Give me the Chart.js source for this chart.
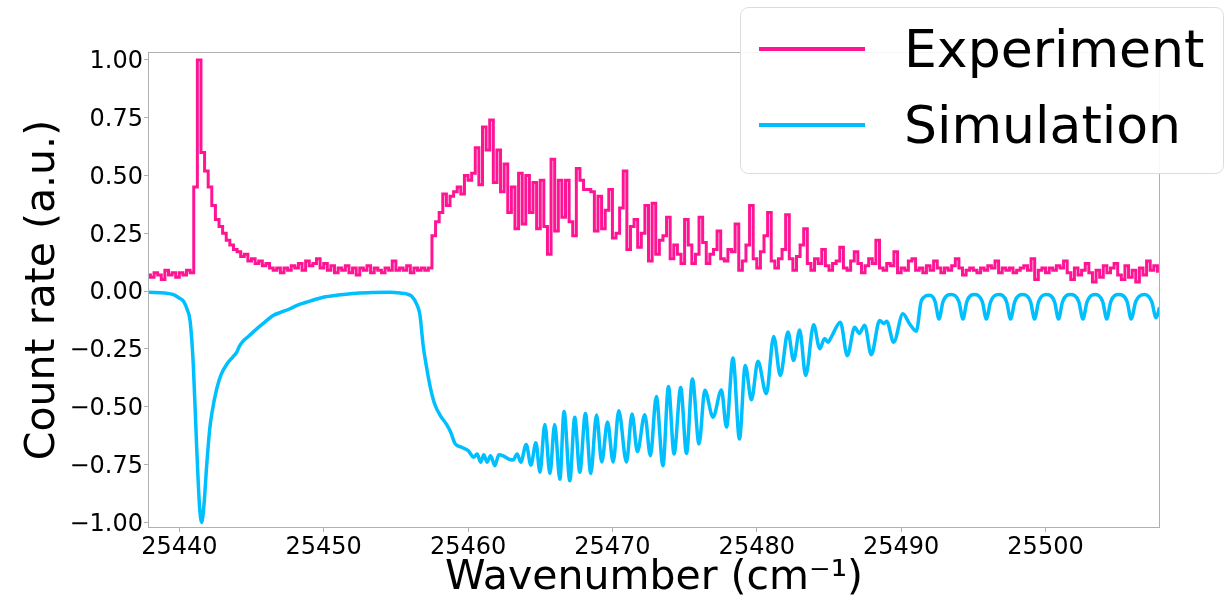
<!DOCTYPE html>
<html>
<head>
<meta charset="utf-8">
<title>Count rate vs wavenumber</title>
<script src="https://cdn.jsdelivr.net/npm/chart.js@4.4.1/dist/chart.umd.min.js"></script>
<style>
  html, body { margin: 0; padding: 0; background: #fff; }
  #wrap { width: 1226px; height: 599px; }
</style>
</head>
<body>
<div id="wrap"><canvas id="spectrum" width="1226" height="599"></canvas></div>
<script>
// measured spectrum: uniform grid, one value per 0.25 cm^-1 bin
const EXP_START = 25437.75;
const EXP_STEP = 0.25;
const expCounts = [
  0.07,
  0.06, 0.08, 0.07, 0.05,   // 25438
  0.09, 0.07, 0.08, 0.06,   // 25439
  0.08, 0.07, 0.09, 0.08,   // 25440
  0.45, 1.00, 0.60, 0.52,   // 25441
  0.45, 0.37, 0.31, 0.28,   // 25442
  0.25, 0.22, 0.20, 0.18,   // 25443
  0.17, 0.15, 0.16, 0.13,   // 25444
  0.14, 0.12, 0.13, 0.11,   // 25445
  0.12, 0.10, 0.09, 0.10,   // 25446
  0.08, 0.10, 0.09, 0.11,   // 25447
  0.10, 0.12, 0.09, 0.13,   // 25448
  0.11, 0.12, 0.14, 0.10,   // 25449
  0.12, 0.09, 0.11, 0.08,   // 25450
  0.10, 0.09, 0.11, 0.08,   // 25451
  0.10, 0.07, 0.10, 0.09,   // 25452
  0.11, 0.08, 0.10, 0.09,   // 25453
  0.08, 0.10, 0.09, 0.13,   // 25454
  0.09, 0.10, 0.09, 0.11,   // 25455
  0.08, 0.10, 0.09, 0.10,   // 25456
  0.09, 0.10, 0.24, 0.30,   // 25457
  0.34, 0.42, 0.37, 0.41,   // 25458
  0.43, 0.45, 0.42, 0.50,   // 25459
  0.48, 0.51, 0.62, 0.46,   // 25460
  0.71, 0.61, 0.74, 0.47,   // 25461
  0.61, 0.43, 0.55, 0.34,   // 25462
  0.45, 0.27, 0.51, 0.29,   // 25463
  0.50, 0.34, 0.47, 0.27,   // 25464
  0.48, 0.28, 0.16, 0.57,   // 25465
  0.26, 0.48, 0.32, 0.48,   // 25466
  0.30, 0.24, 0.53, 0.48,   // 25467
  0.44, 0.44, 0.43, 0.26,   // 25468
  0.41, 0.27, 0.35, 0.44,   // 25469
  0.23, 0.25, 0.36, 0.52,   // 25470
  0.18, 0.28, 0.31, 0.19,   // 25471
  0.25, 0.37, 0.13, 0.38,   // 25472
  0.16, 0.22, 0.24, 0.32,   // 25473
  0.14, 0.20, 0.16, 0.12,   // 25474
  0.31, 0.20, 0.12, 0.16,   // 25475
  0.32, 0.21, 0.12, 0.16,   // 25476
  0.18, 0.26, 0.14, 0.13,   // 25477
  0.18, 0.17, 0.29, 0.09,   // 25478
  0.13, 0.20, 0.37, 0.14,   // 25479
  0.10, 0.17, 0.24, 0.34,   // 25480
  0.13, 0.10, 0.14, 0.18,   // 25481
  0.33, 0.14, 0.09, 0.15,   // 25482
  0.20, 0.27, 0.12, 0.09,   // 25483
  0.14, 0.12, 0.18, 0.11,   // 25484
  0.09, 0.12, 0.13, 0.19,   // 25485
  0.10, 0.09, 0.13, 0.17,   // 25486
  0.12, 0.08, 0.11, 0.14,   // 25487
  0.12, 0.22, 0.10, 0.09,   // 25488
  0.12, 0.11, 0.17, 0.08,   // 25489
  0.10, 0.09, 0.13, 0.14,   // 25490
  0.09, 0.10, 0.08, 0.11,   // 25491
  0.09, 0.13, 0.10, 0.08,   // 25492
  0.10, 0.09, 0.11, 0.14,   // 25493
  0.10, 0.07, 0.09, 0.10,   // 25494
  0.09, 0.08, 0.10, 0.09,   // 25495
  0.11, 0.10, 0.13, 0.08,   // 25496
  0.10, 0.09, 0.10, 0.08,   // 25497
  0.09, 0.10, 0.11, 0.09,   // 25498
  0.14, 0.05, 0.09, 0.10,   // 25499
  0.08, 0.10, 0.09, 0.11,   // 25500
  0.10, 0.13, 0.08, 0.05,   // 25501
  0.10, 0.07, 0.09, 0.12,   // 25502
  0.08, 0.04, 0.09, 0.06,   // 25503
  0.11, 0.08, 0.10, 0.12,   // 25504
  0.07, 0.05, 0.11, 0.06,   // 25505
  0.09, 0.04, 0.10, 0.07,   // 25506
  0.13, 0.09, 0.11, 0.08    // 25507
];

// simulated spectrum (plotted inverted), sampled at turning points
const simWavenumber = [
  25437.9, 25439.0, 25439.6, 25440.0, 25440.3, 25440.55, 25440.75, 25440.97,
  25441.2, 25441.4, 25441.55, 25441.7, 25441.9, 25442.1, 25442.25, 25442.6,
  25442.9, 25443.3, 25443.7, 25443.97, 25444.15, 25444.43, 25444.8, 25445.36,
  25445.9, 25446.5, 25447.1, 25447.66, 25448.2, 25448.8, 25449.4, 25449.97,
  25451.0, 25452.28, 25453.5, 25454.6, 25455.3, 25455.74, 25456.1, 25456.43,
  25456.66, 25456.9, 25457.13, 25457.4, 25457.7, 25458.1, 25458.5, 25458.8,
  25459.09, 25459.55, 25460.01, 25460.4, 25460.63, 25460.87, 25461.09, 25461.32,
  25461.56, 25461.86, 25462.13, 25462.43, 25462.78, 25463.12, 25463.4, 25463.65,
  25464.03, 25464.35, 25464.7, 25464.98, 25465.32, 25465.67, 25466.0, 25466.36,
  25466.65, 25467.05, 25467.39, 25467.74, 25468.13, 25468.5, 25468.9, 25469.26,
  25469.66, 25470.05, 25470.44, 25470.97, 25471.36, 25471.73, 25472.24, 25472.63,
  25473.04, 25473.5, 25473.88, 25474.27, 25474.73, 25475.13, 25475.54, 25476.0,
  25476.4, 25476.97, 25477.55, 25477.9, 25478.35, 25478.8, 25479.2, 25479.63,
  25480.08, 25480.66, 25481.17, 25481.63, 25482.16, 25482.55, 25482.97, 25483.39,
  25483.94, 25484.36, 25484.7, 25484.93, 25485.15, 25485.79, 25486.27, 25486.78,
  25487.1, 25487.47, 25487.93, 25488.51, 25488.8, 25489.0, 25489.48, 25490.12,
  25490.59, 25491.05, 25491.4, 25491.97,
  25492.35, 25492.62, 25492.9, 25493.47, 25494.0, 25494.28, 25494.55, 25495.08,
  25495.62, 25495.9, 25496.2, 25496.75, 25497.3, 25497.58, 25497.87, 25498.43,
  25498.96, 25499.24, 25499.52, 25500.05, 25500.62, 25500.9, 25501.18, 25501.73,
  25502.3, 25502.59, 25502.88, 25503.42, 25503.96, 25504.24, 25504.52, 25505.07,
  25505.65, 25505.93, 25506.25, 25506.85, 25507.35, 25507.66, 25507.9
];
const simCounts = [
  -0.005, -0.008, -0.015, -0.03, -0.045, -0.08, -0.13, -0.32,
  -0.67, -0.93, -1.0, -0.93, -0.75, -0.6, -0.53, -0.42,
  -0.36, -0.315, -0.285, -0.265, -0.24, -0.215, -0.195, -0.163,
  -0.135, -0.105, -0.09, -0.076, -0.06, -0.048, -0.036, -0.026,
  -0.017, -0.009, -0.006, -0.005, -0.008, -0.012, -0.022, -0.055,
  -0.10, -0.24, -0.33, -0.42, -0.49, -0.54, -0.575, -0.61,
  -0.658, -0.675, -0.69, -0.718, -0.704, -0.74, -0.707, -0.74,
  -0.712, -0.755, -0.707, -0.712, -0.725, -0.73, -0.704, -0.74,
  -0.663, -0.753, -0.656, -0.783, -0.577, -0.788, -0.577, -0.814,
  -0.52, -0.82, -0.545, -0.783, -0.529, -0.788, -0.536, -0.739,
  -0.566, -0.739, -0.517, -0.739, -0.531, -0.694, -0.534, -0.712,
  -0.456, -0.755, -0.412, -0.704, -0.417, -0.702, -0.38, -0.661,
  -0.429, -0.545, -0.427, -0.588, -0.289, -0.639, -0.321, -0.47,
  -0.303, -0.444, -0.196, -0.365, -0.177, -0.30, -0.168, -0.365,
  -0.145, -0.249, -0.205, -0.221, -0.2, -0.134, -0.279, -0.156,
  -0.183, -0.147, -0.275, -0.127, -0.14, -0.13, -0.221, -0.098,
  -0.142, -0.173, -0.041, -0.018,
  -0.045, -0.12, -0.045, -0.015, -0.045, -0.12, -0.045, -0.015,
  -0.045, -0.12, -0.045, -0.015, -0.045, -0.12, -0.045, -0.015,
  -0.045, -0.12, -0.045, -0.015, -0.045, -0.12, -0.045, -0.015,
  -0.045, -0.12, -0.045, -0.015, -0.045, -0.12, -0.045, -0.015,
  -0.045, -0.12, -0.045, -0.015, -0.045, -0.115, -0.07
];

const xTickValues = [25440, 25450, 25460, 25470, 25480, 25490, 25500];
const yTickValues = [-1, -0.75, -0.5, -0.25, 0, 0.25, 0.5, 0.75, 1];
const seriesNames = ['Experiment', 'Simulation'];
const seriesColors = ['#ff1493', '#00bfff'];

const X_MIN = 25437.9, X_MAX = 25507.86;
const Y_MIN = -1.02, Y_MAX = 1.03;
const FONT = "'DejaVu Sans', sans-serif";
const SPINE = '#b0b0b0';

const expPoints = expCounts.map((v, i) => ({ x: EXP_START + i * EXP_STEP, y: v }));
const simPoints = simWavenumber.map((w, i) => ({ x: w, y: simCounts[i] }));

// axes frame on all four sides plus the boxed legend in the top right corner
const frameLegend = {
  id: 'frameLegend',
  afterDatasetsDraw(chart) {
    const { ctx, chartArea: a } = chart;
    ctx.save();
    ctx.strokeStyle = SPINE;
    ctx.lineWidth = 1;
    ctx.strokeRect(a.left - 0.5, a.top - 0.5, a.right - a.left + 1, a.bottom - a.top + 1);
    ctx.restore();
  },
  afterDraw(chart) {
    const ctx = chart.ctx;
    ctx.save();
    ctx.beginPath();
    ctx.roundRect(740.5, 7.5, 483, 166, 8);
    ctx.fillStyle = 'rgba(255,255,255,0.9)';
    ctx.fill();
    ctx.strokeStyle = '#dcdcdc';
    ctx.lineWidth = 1;
    ctx.stroke();
    const rows = [49, 125];
    const baselines = [67, 143];
    chart.data.datasets.forEach((ds, i) => {
      ctx.beginPath();
      ctx.moveTo(759, rows[i]);
      ctx.lineTo(865, rows[i]);
      ctx.strokeStyle = ds.borderColor;
      ctx.lineWidth = 4;
      ctx.stroke();
      ctx.fillStyle = '#000';
      ctx.font = '52px ' + FONT;
      ctx.textAlign = 'left';
      ctx.textBaseline = 'alphabetic';
      ctx.fillText(ds.label, 904, baselines[i]);
    });
    ctx.restore();
  }
};

const fmtY = v => (v < 0 ? '\u2212' : '') + Math.abs(v).toFixed(2);

new Chart(document.getElementById('spectrum'), {
  type: 'line',
  data: {
    datasets: [
      {
        label: seriesNames[0],
        data: expPoints,
        borderColor: seriesColors[0],
        borderWidth: 3,
        stepped: true,
        pointRadius: 0,
        fill: false
      },
      {
        label: seriesNames[1],
        data: simPoints,
        borderColor: seriesColors[1],
        borderWidth: 3.5,
        cubicInterpolationMode: 'monotone',
        pointRadius: 0,
        fill: false
      }
    ]
  },
  options: {
    responsive: false,
    animation: false,
    devicePixelRatio: 1,
    layout: { padding: { left: 0, top: 53, right: 67, bottom: 0 } },
    plugins: { legend: { display: false }, tooltip: { enabled: false } },
    scales: {
      x: {
        type: 'linear',
        min: X_MIN,
        max: X_MAX,
        afterBuildTicks: s => { s.ticks = xTickValues.map(v => ({ value: v })); },
        afterFit: s => { s.height = 72; },
        border: { display: false },
        grid: { display: true, drawOnChartArea: false, drawTicks: true, tickLength: 5, color: SPINE },
        ticks: {
          color: '#000',
          padding: 1,
          maxRotation: 0,
          autoSkip: false,
          font: { family: FONT, size: 24 },
          callback: v => String(v)
        },
        title: {
          display: true,
          text: 'Wavenumber (cm\u207B\u00B9)',
          color: '#000',
          padding: { top: 0, bottom: 0 },
          font: { family: FONT, size: 41, lineHeight: 1 }
        }
      },
      y: {
        type: 'linear',
        min: Y_MIN,
        max: Y_MAX,
        afterBuildTicks: s => { s.ticks = yTickValues.map(v => ({ value: v })); },
        afterFit: s => { s.width = 149; },
        border: { display: false },
        grid: { display: true, drawOnChartArea: false, drawTicks: true, tickLength: 5, color: SPINE },
        ticks: {
          color: '#000',
          padding: 1,
          labelOffset: 2,
          autoSkip: false,
          font: { family: FONT, size: 24 },
          callback: v => fmtY(v)
        },
        title: {
          display: true,
          text: 'Count rate (a.u.)',
          color: '#000',
          padding: { top: 23, bottom: 0 },
          font: { family: FONT, size: 41, lineHeight: 1 }
        }
      }
    }
  },
  plugins: [frameLegend]
});
</script>
</body>
</html>
